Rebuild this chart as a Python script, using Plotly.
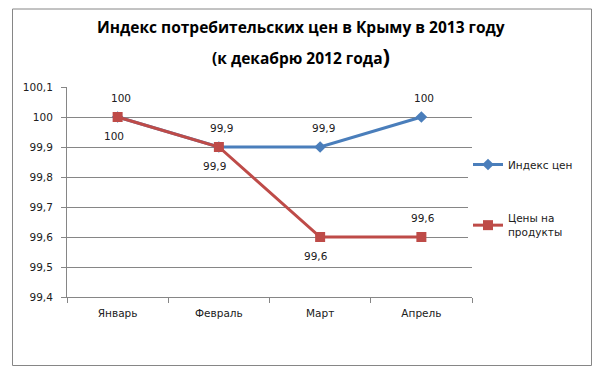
import plotly.graph_objects as go

months = ["Январь", "Февраль", "Март", "Апрель"]
price_index = [100, 99.9, 99.9, 100]
food_prices = [100, 99.9, 99.6, 99.6]
food_label_side = [-1, -1, -1, 1]   # -1 = below point, 1 = above point
y_ticks = [99.4, 99.5, 99.6, 99.7, 99.8, 99.9, 100, 100.1]
title_line1 = "Индекс потребительских цен в Крыму в 2013 году"
title_line2 = "(к декабрю 2012 года<span style='font-size:22px'>)</span>"

blue = "#4A7EBB"
red = "#BE4B48"
txt = "#202020"
grid = "#868686"

# page pixel geometry (page body has an 8px default margin)
BODY = 8
PL, PR, PT, PB = 67, 472, 87, 297
W, H = 600 - BODY, 371 - BODY


def px_x(px):
    return (px - PL) / (PR - PL)


def px_y(py):
    return (PB - py) / (PB - PT)


def fmt(v):
    return ("%g" % v).replace(".", ",")


fig = go.Figure()
fig.add_trace(go.Scatter(
    x=months, y=price_index, name="Индекс цен", mode="lines+markers",
    line=dict(color=blue, width=3),
    marker=dict(symbol="diamond", size=9, color=blue),
    legendgroup="a",
))
fig.add_trace(go.Scatter(
    x=months, y=food_prices, name="Цены на<br>продукты", mode="lines+markers",
    line=dict(color=red, width=3),
    marker=dict(symbol="square", size=10, color=red),
    legendgroup="b",
))

annotations = []
lab_font = dict(family="DejaVu Sans", size=10.5, color=txt)
for m, v in zip(months, price_index):
    annotations.append(dict(x=m, y=v, xref="x", yref="y", text=fmt(v), showarrow=False,
                            yshift=19, xshift=3, font=lab_font))
for m, v, s in zip(months, food_prices, food_label_side):
    annotations.append(dict(x=m, y=v, xref="x", yref="y", text=fmt(v), showarrow=False,
                            yshift=19 * s, xshift=-4 if s < 0 else 2, font=lab_font))
title_font = dict(family="Open Sans", size=15.5, color="#000000", weight="bold")
annotations.append(dict(x=px_x(301), y=px_y(27), xref="paper", yref="paper", text=title_line1,
                        showarrow=False, font=title_font, xanchor="center", yanchor="middle"))
annotations.append(dict(x=px_x(301), y=px_y(55), xref="paper", yref="paper", text=title_line2,
                        showarrow=False, font=title_font, xanchor="center", yanchor="middle"))

fig.update_layout(
    width=W, height=H,
    margin=dict(l=PL - BODY, r=W - (PR - BODY), t=PT - BODY, b=H - (PB - BODY), autoexpand=False),
    paper_bgcolor="white", plot_bgcolor="white",
    separators=", ",
    showlegend=True,
    legend=dict(x=px_x(468), y=0.70, xanchor="left", yanchor="top",
                font=dict(family="DejaVu Sans", size=10.5, color=txt),
                tracegroupgap=36, traceorder="grouped", itemwidth=30),
    xaxis=dict(
        showline=True, linecolor=grid, linewidth=1,
        ticks="outside", ticklen=5, tickcolor=grid, tickson="boundaries",
        showgrid=False, tickfont=dict(family="DejaVu Sans", size=10.5, color=txt),
        ticklabelstandoff=6, range=[-0.5, 3.5],
    ),
    yaxis=dict(
        range=[99.4, 100.1], tickvals=y_ticks,
        ticktext=[fmt(v) for v in y_ticks],
        showline=True, linecolor=grid, linewidth=1,
        ticks="outside", ticklen=5, tickcolor=grid,
        showgrid=True, gridcolor=grid, gridwidth=1, ticklabelstandoff=6,
        tickfont=dict(family="DejaVu Sans", size=10.5, color=txt), zeroline=False,
    ),
    annotations=annotations,
    shapes=[dict(type="rect", xref="paper", yref="paper",
                 x0=px_x(12.5), x1=px_x(591.5),
                 y0=px_y(365.5), y1=px_y(9),
                 line=dict(color=grid, width=1), layer="below")],
)

fig.write_html("out.html")
